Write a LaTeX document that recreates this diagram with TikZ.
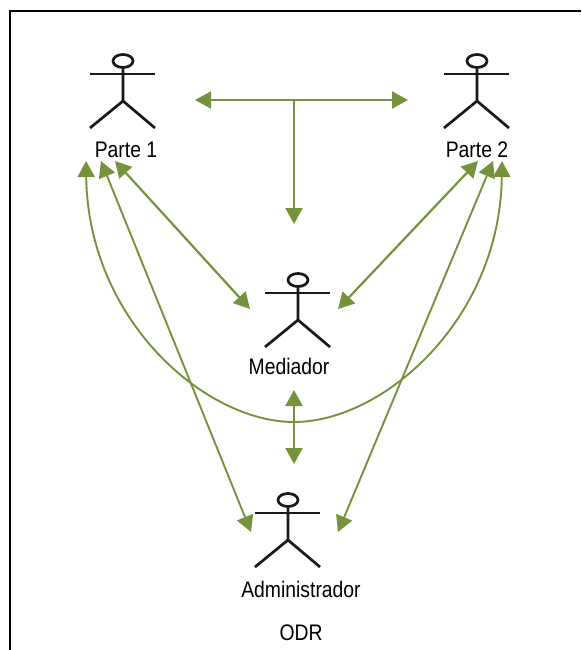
\documentclass[tikz,border=0pt]{standalone}
\usepackage{fontspec}
\setmainfont[FakeStretch=0.86]{Liberation Sans}
\usetikzlibrary{arrows.meta}
\definecolor{olivearrow}{HTML}{76923C}
\tikzset{
  x=1pt,y=-1pt,
  figline/.style={black!90,line width=2.7pt,line join=miter},
  link/.style={olivearrow,line width=2.2pt,{Triangle[length=16pt,width=17pt]}-{Triangle[length=16pt,width=17pt]}},
  thinlink/.style={link,line width=1.9pt},
  onetip/.style={olivearrow,line width=2.2pt,-{Triangle[length=16pt,width=17pt]}},
  caption/.style={font=\fontsize{22.5}{24}\selectfont,text=black,inner sep=0pt,anchor=center},
  pics/actor/.style={code={
    \draw[figline] (0,-13) ellipse [x radius=10,y radius=6.5];
    \draw[figline] (-33,0) -- (32,0);
    \draw[figline] (0,-6.5) -- (0,27) (-33,54) -- (0,27) -- (32,54);
  }}
}
\begin{document}
\begin{tikzpicture}
\useasboundingbox (0,0) rectangle (581,650);
\draw[black,line width=2pt] (10,650) -- (10,11) -- (581,11);
\pic at (123,74) {actor};
\pic at (477,74) {actor};
\pic at (298,293) {actor};
\pic at (288,513) {actor};
\node[caption] (p1) at (126,150) {Parte 1};
\node[caption] (p2) at (477,150) {Parte 2};
\node[caption] (med) at (289,366) {Mediador};
\node[caption] (adm) at (301,589) {Administrador};
\node[caption] (odr) at (301,633) {ODR};
\coordinate (tl) at (195,100);
\coordinate (tr) at (408,100);
\coordinate (tm) at (294,100);
\coordinate (tb) at (294,224);
\coordinate (p1a) at (115,161);
\coordinate (p1b) at (101,161);
\coordinate (p1c) at (86,161);
\coordinate (p2a) at (478,161);
\coordinate (p2b) at (493,161);
\coordinate (p2c) at (502,161);
\coordinate (ml) at (250,309);
\coordinate (mr) at (338,309);
\coordinate (al) at (251,532);
\coordinate (ar) at (338,532);
\coordinate (mb) at (294,390);
\coordinate (at) at (294,464);
\coordinate (cb) at (294,422);
\draw[link] (tl) -- (tr);
\draw[onetip] (tm) -- (tb);
\draw[link] (p1a) -- (ml);
\draw[link] (p2a) -- (mr);
\draw[thinlink] (p1b) -- (al);
\draw[thinlink] (p2b) -- (ar);
\draw[link] (mb) -- (at);
\draw[thinlink] (p1c) .. controls (88,320) and (205,422) .. (cb) .. controls (383,422) and (500,320) .. (p2c);
\end{tikzpicture}
\end{document}
